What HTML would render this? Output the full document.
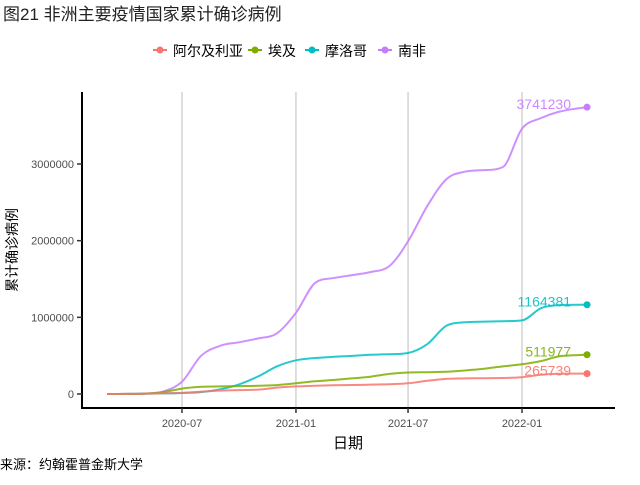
<!DOCTYPE html>
<html><head><meta charset="utf-8">
<style>
body{margin:0;background:#fff;font-family:"Liberation Sans","Noto Sans CJK SC",sans-serif;}
svg text{font-family:"Liberation Sans","Noto Sans CJK SC",sans-serif;}
</style></head>
<body>
<svg id="chart" width="640" height="480" viewBox="0 0 640 480" xmlns="http://www.w3.org/2000/svg">
<rect width="640" height="480" fill="#fff"/>
<text x="3" y="20" font-size="17" fill="#222">图21 非洲主要疫情国家累计确诊病例</text>
<g id="legend"></g>
<g id="grid"></g>
<g id="series"></g>
<line x1="82" y1="92" x2="82" y2="409" stroke="#000" stroke-width="2"/>
<line x1="81" y1="408" x2="615" y2="408" stroke="#000" stroke-width="2"/>
<g id="axes"></g>
<text x="348" y="448" font-size="15" text-anchor="middle" fill="#000">日期</text>
<text transform="translate(17,250) rotate(-90)" font-size="14" text-anchor="middle" fill="#000">累计确诊病例</text>
<text x="0" y="469" font-size="13" fill="#000">来源：约翰霍普金斯大学</text>
</svg>
<script>
const dates=["2020-03-02","2020-04-01","2020-05-01","2020-06-01","2020-07-01","2020-08-01","2020-09-01","2020-10-01","2020-11-01","2020-12-01","2021-01-01","2021-02-01","2021-03-01","2021-04-01","2021-05-01","2021-06-01","2021-07-01","2021-08-01","2021-09-01","2021-10-01","2021-11-01","2021-12-01","2022-01-01","2022-02-01","2022-03-01","2022-04-01","2022-04-16"];
const seriesNames=["阿尔及利亚","埃及","摩洛哥","南非"];
const colors=["#f8766d","#7cae00","#00bfc4","#c77cff"];
const algeria=[0,800,4000,9500,14000,31000,45000,51500,58000,83000,99600,107000,113000,117000,122000,128000,139000,172000,197000,203000,206000,209000,219000,250000,263000,265500,265739];
const egypt=[0,800,5500,25000,70000,94000,99000,103000,107000,116000,139000,166000,182000,203000,226000,262000,281000,284000,289000,307000,330000,360000,388000,430000,490000,508000,511977];
const morocco=[0,600,4400,8000,12500,25000,62000,125000,230000,360000,440000,470000,484000,497000,512000,519000,535000,650000,890000,935000,944000,950000,960000,1120000,1160000,1163500,1164381];
const southAfrica=[0,1400,5600,34000,160000,500000,630000,675000,725000,790000,1060000,1450000,1510000,1550000,1590000,1670000,1990000,2450000,2800000,2900000,2920000,2960000,3460000,3600000,3680000,3725000,3741230];
const yTicks=[0,1000000,2000000,3000000];
const xTicks=["2020-07-01","2021-01-01","2021-07-01","2022-01-01"];
const xTickLabels=["2020-07","2021-01","2021-07","2022-01"];

const NS="http://www.w3.org/2000/svg";
const t0=Date.parse("2020-07-01"),t1=Date.parse("2022-01-01");
function x(d){return 182+(Date.parse(d)-t0)/(t1-t0)*(522-182);}
function y(v){return 394-v/3000000*(394-164);}
function el(tag,attrs,parent){const e=document.createElementNS(NS,tag);for(const k in attrs)e.setAttribute(k,attrs[k]);parent.appendChild(e);return e;}
function monoPath(xs,ys){
  const n=xs.length,d=[],m=[];
  for(let i=0;i<n-1;i++)d.push((ys[i+1]-ys[i])/(xs[i+1]-xs[i]));
  m[0]=d[0];m[n-1]=d[n-2];
  for(let i=1;i<n-1;i++){m[i]=(d[i-1]*d[i]<=0)?0:(d[i-1]+d[i])/2;}
  for(let i=0;i<n-1;i++){if(d[i]===0){m[i]=0;m[i+1]=0;continue;}const a=m[i]/d[i],b=m[i+1]/d[i],s=a*a+b*b;if(s>9){const t=3/Math.sqrt(s);m[i]=t*a*d[i];m[i+1]=t*b*d[i];}}
  let p='M'+xs[0].toFixed(1)+','+ys[0].toFixed(1);
  for(let i=0;i<n-1;i++){const h=(xs[i+1]-xs[i])/3;p+=' C'+(xs[i]+h).toFixed(1)+','+(ys[i]+m[i]*h).toFixed(1)+' '+(xs[i+1]-h).toFixed(1)+','+(ys[i+1]-m[i+1]*h).toFixed(1)+' '+xs[i+1].toFixed(1)+','+ys[i+1].toFixed(1);}
  return p;
}
const grid=document.getElementById('grid'),axes=document.getElementById('axes'),ser=document.getElementById('series'),leg=document.getElementById('legend');
xTicks.forEach((d,i)=>{
  const g=el('line',{x1:x(d),x2:x(d),y1:92,y2:408,stroke:'#bdbdbd','stroke-width':1},grid);
  
  
  const tk=el('line',{x1:x(d),x2:x(d),y1:408,y2:413,stroke:'#333','stroke-width':1.5},axes);
  
  
  const t=el('text',{x:x(d),y:427,'font-size':11,'text-anchor':'middle',fill:'#4d4d4d'},axes);
  t.textContent=xTickLabels[i];
  
  
});
yTicks.forEach(v=>{
  const tk=el('line',{x1:77,x2:82,y1:y(v),y2:y(v),stroke:'#333','stroke-width':1.5},axes);
  
  
  const t=el('text',{x:74,y:y(v)+4,'font-size':11,'text-anchor':'end',fill:'#4d4d4d'},axes);
  t.textContent=String(v);
  
  
});
const all=[algeria,egypt,morocco,southAfrica];
const order=[3,2,1,0];
order.forEach(i=>{
  const vals=all[i];
  const xs=dates.map(x),ys=vals.map(y);
  const p=el('path',{d:monoPath(xs,ys),fill:'none',stroke:colors[i],'stroke-width':2,'stroke-opacity':0.85},ser);
  
  
  const last=vals.length-1;
  const c=el('circle',{cx:xs[last],cy:ys[last],r:3.5,fill:colors[i]},ser);
  
  
  const t=el('text',{x:xs[last]-16,y:ys[last]+2,'font-size':14,'text-anchor':'end',fill:colors[i],'fill-opacity':0.9},ser);
  t.textContent=String(vals[last]);
  
  
});
const legX=[160,255,312,385];
seriesNames.forEach((n,i)=>{
  const g=el('g',{},leg);
  
  
  el('line',{x1:legX[i]-7,x2:legX[i]+7,y1:50,y2:50,stroke:colors[i],'stroke-width':2},g);
  el('circle',{cx:legX[i],cy:50,r:3.5,fill:colors[i]},g);
  const t=el('text',{x:legX[i]+13,y:56,'font-size':14,fill:'#000'},g);
  t.textContent=n;
});
</script>
</body></html>
